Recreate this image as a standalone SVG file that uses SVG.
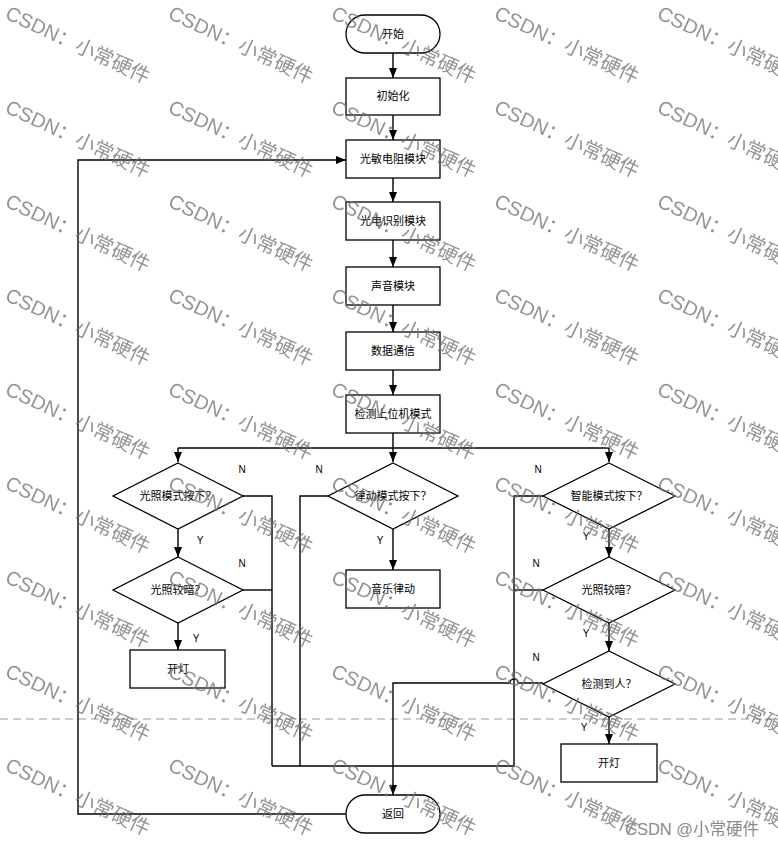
<svg xmlns="http://www.w3.org/2000/svg" width="778" height="846" viewBox="0 0 778 846">
<style>
.box{fill:#fff;stroke:#000;stroke-width:1.3}
.ln{fill:none;stroke:#000;stroke-width:1.4}
.arr{marker-end:url(#ah)}
.t{font-family:"Noto Sans CJK SC","Liberation Sans",sans-serif;font-size:11px;fill:#000;text-anchor:middle}
.yn{font-family:"Liberation Sans","DejaVu Sans",sans-serif;font-size:10px;fill:#000;text-anchor:middle}
.wm{font-family:"Liberation Sans","Noto Sans CJK SC",sans-serif;font-size:20px;fill:#6e6e6e;fill-opacity:0.75}
</style>
<defs>
<marker id="ah" viewBox="0 0 10 8" refX="10" refY="4" markerWidth="10" markerHeight="8" markerUnits="userSpaceOnUse" orient="auto">
<path d="M0,0 L10,4 L0,8 z" fill="#000"/>
</marker>
<pattern id="wmp" patternUnits="userSpaceOnUse" x="0" y="0" width="163" height="94">
<text class="wm" x="4" y="18" transform="rotate(25 4 18)">CSDN：小常硬件</text>
</pattern>
</defs>
<rect width="778" height="846" fill="#fff"/>
<line x1="0" y1="719" x2="778" y2="719" stroke="#9a9a9a" stroke-width="1" stroke-dasharray="8 5"/>
<g id="connectors">
<path class="ln arr" d="M393,53 V78"/>
<path class="ln arr" d="M393,115 V140"/>
<path class="ln arr" d="M393,178 V202"/>
<path class="ln arr" d="M393,240 V267"/>
<path class="ln arr" d="M393,305 V332"/>
<path class="ln arr" d="M393,370 V395"/>
<path class="ln" d="M393,433 V448 M178,448 H609"/>
<path class="ln arr" d="M178,448 V462"/>
<path class="ln arr" d="M393,448 V462"/>
<path class="ln arr" d="M609,448 V462"/>
<path class="ln arr" d="M178,529 V557"/>
<path class="ln arr" d="M178,623 V650"/>
<path class="ln" d="M243,496 H272 V766"/>
<path class="ln" d="M243,590 H272"/>
<path class="ln" d="M328,496 H300 V766"/>
<path class="ln arr" d="M393,529 V570"/>
<path class="ln" d="M543,496 H514 V766"/>
<path class="ln" d="M543,590 H514"/>
<path class="ln arr" d="M609,529 V557"/>
<path class="ln arr" d="M609,623 V651"/>
<path class="ln arr" d="M609,717 V744"/>
<path class="ln arr" d="M543,683 H518 A4,4 0 0 0 510,683 H393 V795"/>
<path class="ln" d="M272,766 H514" stroke-width="2.6"/>
<path class="ln arr" d="M346,814 H78 V160 H346"/>
</g>
<g id="start"><rect class="box" x="346" y="15" width="94" height="38" rx="19"/><text class="t" x="393" y="38">开始</text></g>
<g id="init"><rect class="box" x="346" y="78" width="94" height="37"/><text class="t" x="393" y="100">初始化</text></g>
<g id="ldr"><rect class="box" x="346" y="140" width="94" height="38"/><text class="t" x="393" y="163">光敏电阻模块</text></g>
<g id="photo"><rect class="box" x="346" y="202" width="94" height="38"/><text class="t" x="393" y="225">光电识别模块</text></g>
<g id="sound"><rect class="box" x="346" y="267" width="94" height="38"/><text class="t" x="393" y="290">声音模块</text></g>
<g id="comm"><rect class="box" x="346" y="332" width="94" height="38"/><text class="t" x="393" y="355">数据通信</text></g>
<g id="detect-mode"><rect class="box" x="346" y="395" width="94" height="38"/><text class="t" x="393" y="418">检测上位机模式</text></g>
<g id="light-mode"><polygon class="box" points="178,463 243,496 178,529 113,496"/><text class="t" x="178" y="500">光照模式按下？</text></g>
<g id="light-dark-l"><polygon class="box" points="178,557 243,590 178,623 113,590"/><text class="t" x="178" y="594">光照较暗？</text></g>
<g id="lamp-l"><rect class="box" x="130" y="650" width="95" height="38"/><text class="t" x="178" y="673">开灯</text></g>
<g id="rhythm-mode"><polygon class="box" points="393,463 458,496 393,529 328,496"/><text class="t" x="393" y="500">律动模式按下？</text></g>
<g id="music"><rect class="box" x="346" y="570" width="94" height="38"/><text class="t" x="393" y="593">音乐律动</text></g>
<g id="smart-mode"><polygon class="box" points="609,463 675,496 609,529 543,496"/><text class="t" x="609" y="500">智能模式按下？</text></g>
<g id="light-dark-r"><polygon class="box" points="609,557 675,590 609,623 543,590"/><text class="t" x="609" y="594">光照较暗？</text></g>
<g id="person"><polygon class="box" points="609,651 675,684 609,717 543,684"/><text class="t" x="609" y="688">检测到人？</text></g>
<g id="lamp-r"><rect class="box" x="561" y="744" width="96" height="38"/><text class="t" x="609" y="767">开灯</text></g>
<g id="return"><rect class="box" x="346" y="795" width="94" height="38" rx="19"/><text class="t" x="393" y="818">返回</text></g>
<g id="labels">
<text class="yn" x="242" y="473">N</text>
<text class="yn" x="242" y="567">N</text>
<text class="yn" x="200" y="544">Y</text>
<text class="yn" x="196" y="642">Y</text>
<text class="yn" x="319" y="473">N</text>
<text class="yn" x="380" y="544">Y</text>
<text class="yn" x="538" y="473">N</text>
<text class="yn" x="536" y="567">N</text>
<text class="yn" x="536" y="661">N</text>
<text class="yn" x="586" y="540">Y</text>
<text class="yn" x="586" y="637">Y</text>
<text class="yn" x="584" y="731">Y</text>
</g>
<rect width="778" height="846" fill="url(#wmp)"/>
<text x="625" y="835" font-family="Liberation Sans,'Noto Sans CJK SC',sans-serif" font-size="16.5" fill="#8a8a8a">CSDN @小常硬件</text>
</svg>
